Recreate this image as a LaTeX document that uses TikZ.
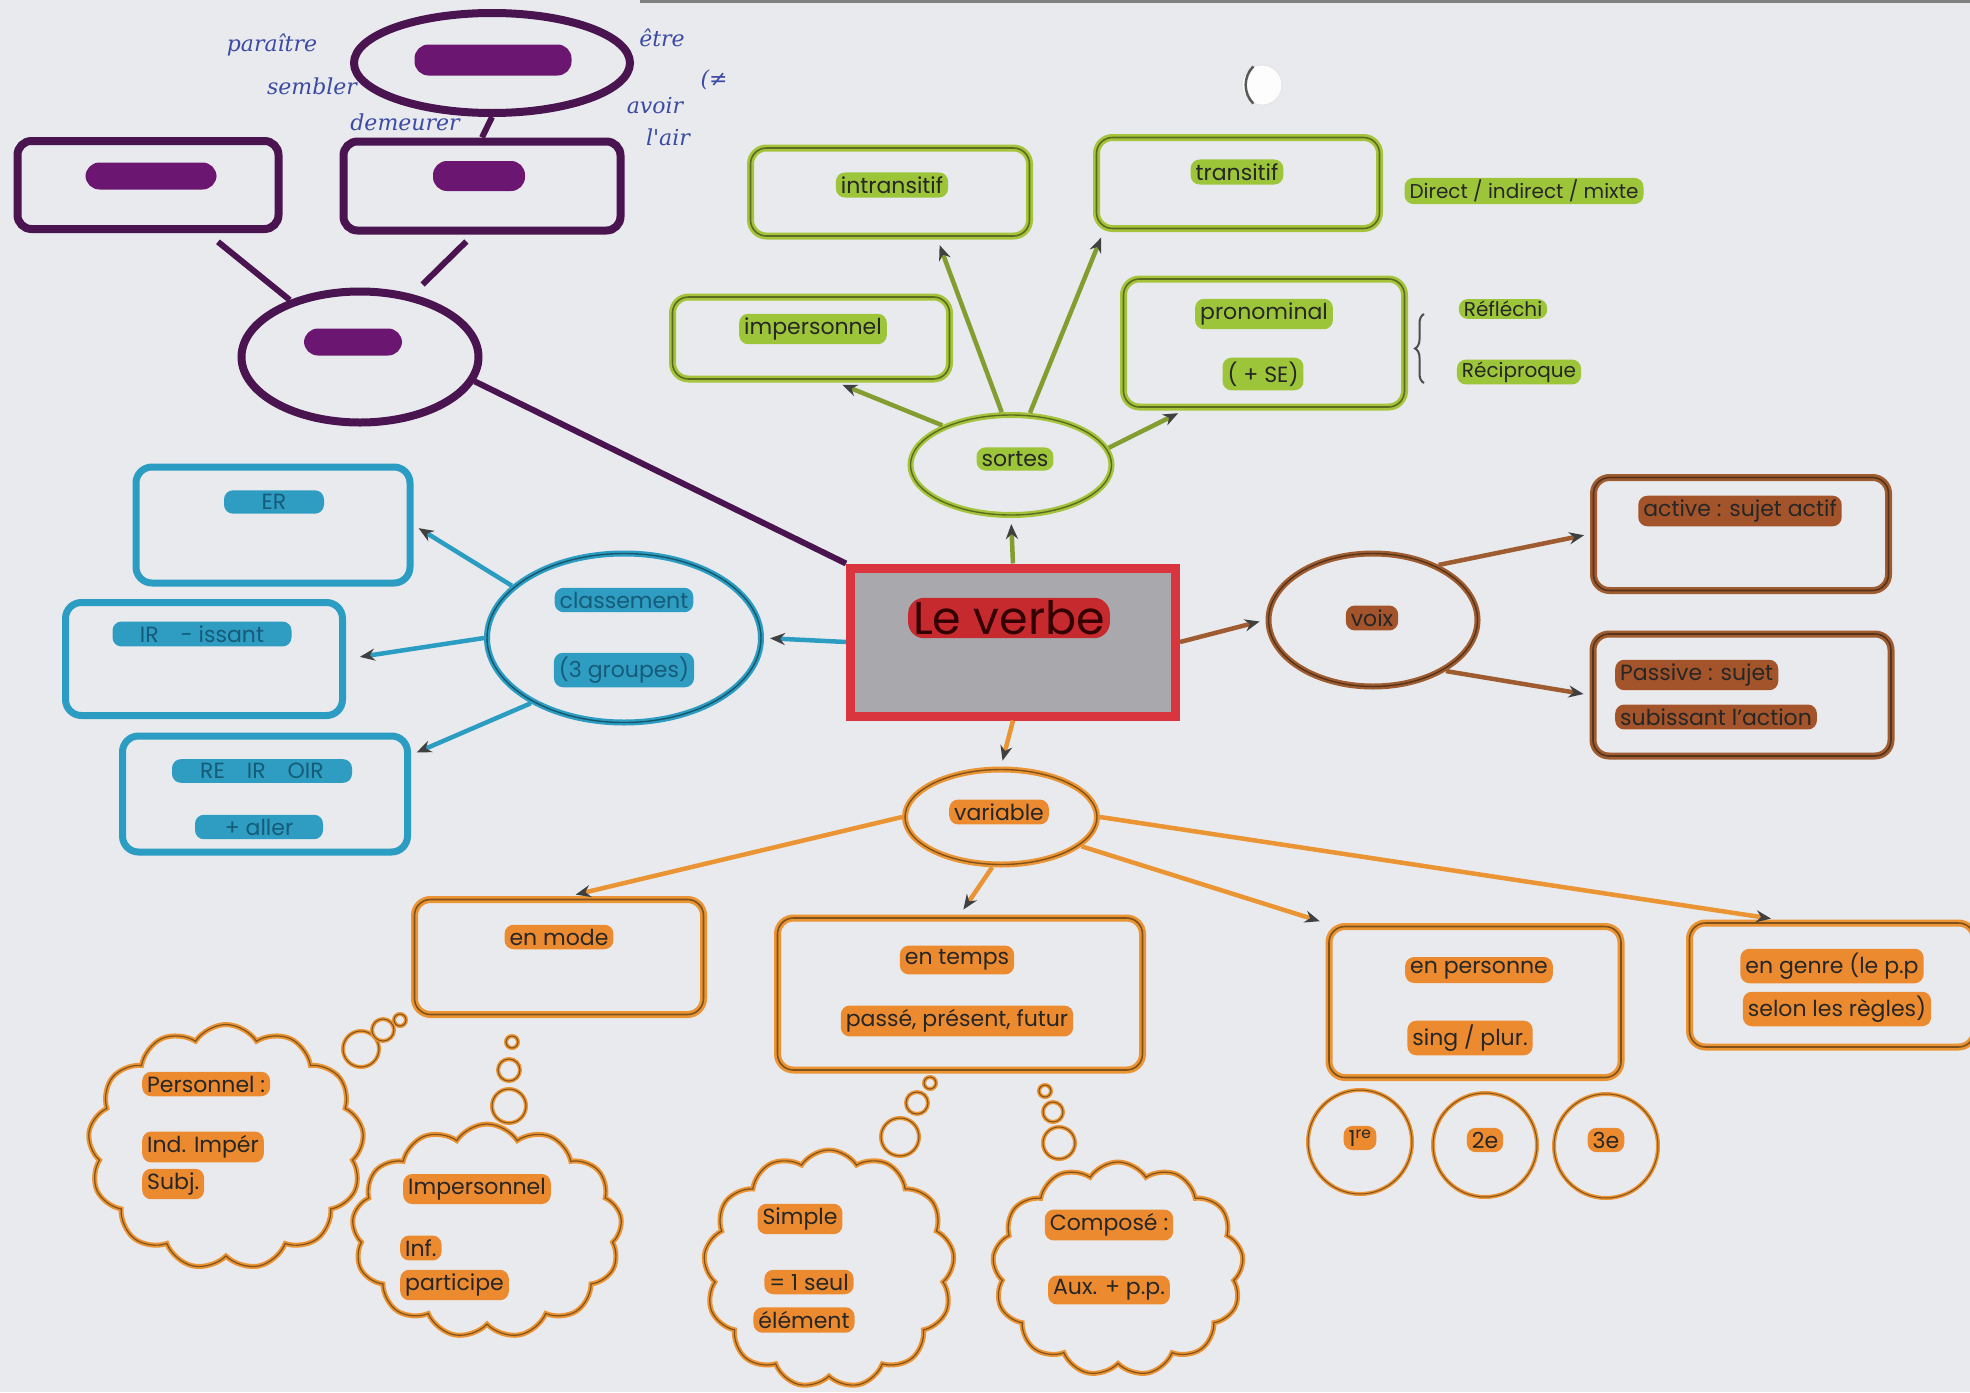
\documentclass[tikz,border=0pt]{standalone}
\usepackage{fontspec}
\setmainfont{Poppins}
\newfontfamily\handfont{DejaVu Serif}
\usetikzlibrary{shapes.geometric,shapes.symbols,arrows.meta,decorations.pathreplacing}
\definecolor{paper}{HTML}{E9EAEE}
\definecolor{pur}{HTML}{4A1450}
\definecolor{purblob}{HTML}{6B1772}
\definecolor{grn}{HTML}{A5C43C}
\definecolor{grnhl}{HTML}{9DC53A}
\definecolor{blu}{HTML}{2C9DC2}
\definecolor{bluhl}{HTML}{2F9CC2}
\definecolor{blutx}{HTML}{155C79}
\definecolor{brn}{HTML}{9E5C30}
\definecolor{brnhl}{HTML}{A3542A}
\definecolor{org}{HTML}{EA9433}
\definecolor{orghl}{HTML}{EC8A30}
\definecolor{redb}{HTML}{D9353F}
\definecolor{redhl}{HTML}{C72A2E}
\definecolor{vgrey}{HTML}{A9A9AD}
\definecolor{ink}{HTML}{3B4BA3}
\newcommand{\fsz}[1]{\fontsize{#1}{#1}\selectfont}
\tikzset{
  hl/.style={fill=#1, rounded corners=9pt, inner xsep=5pt, inner ysep=4pt, text=black!85, font=\fsz{22}},
  cbox/.style={draw=#1, line width=7pt, rounded corners=16pt, inner sep=0pt, postaction={draw=#1!55!black, line width=1.6pt}},
  cell/.style={ellipse, draw=#1, line width=6pt, inner sep=0pt, postaction={draw=#1!55!black, line width=1.4pt}},
  pbox/.style={draw=pur, line width=8pt, rounded corners=14pt, inner sep=0pt},
  pell/.style={ellipse, draw=pur, line width=8pt, inner sep=0pt},
  pblob/.style={fill=purblob, rounded corners=14pt, inner sep=0pt},
  pline/.style={draw=pur, line width=6pt},
  arr/.style={draw=#1, line width=4.5pt, shorten >=6pt, -{Stealth[length=15pt,width=12pt,color=black!75]}},
  cloudy/.style={cloud, cloud puffs=13, cloud puff arc=115, aspect=1, draw=org, line width=5pt, inner sep=0pt, postaction={draw=org!55!black, line width=1.2pt}},
  bubble/.style={circle, draw=org, line width=4pt, inner sep=0pt, postaction={draw=org!55!black, line width=1pt}},
  hand/.style={text=ink, font=\handfont\itshape\fsz{22}},
  side/.style={hl=grnhl, font=\fsz{20}, inner ysep=2pt},
}
\begin{document}
\begin{tikzpicture}[x=1pt,y=-1pt]
\fill[paper] (0,0) rectangle (1970,1392);
\useasboundingbox (0,0) rectangle (1970,1392);
\clip (0,0) rectangle (1970,1392);
\fill[black!50] (640,0) rectangle (1970,3);

% hole in the paper
\node[circle, minimum size=40pt, fill=white!90!paper, draw=black!10, line width=1pt] (hole) at (1262,85) {};
\draw[black!65, line width=2.5pt] (hole.115) to[bend right=45] (hole.245);

% ---------------- purple ----------------
\node[pell, minimum width=276pt, minimum height=100pt] (pTop) at (492,63) {};
\node[pblob, minimum width=157pt, minimum height=31pt] (pb1) at (493,60) {};
\node[pbox, minimum width=261pt, minimum height=88pt] (pL) at (148,185) {};
\node[pblob, minimum width=131pt, minimum height=27pt] (pb2) at (151,176) {};
\node[pbox, minimum width=277pt, minimum height=89pt] (pM) at (482,186) {};
\node[pblob, minimum width=92pt, minimum height=30pt] (pb3) at (479,176) {};
\node[pell, minimum width=237pt, minimum height=131pt] (pE) at (360,357) {};
\node[pblob, minimum width=98pt, minimum height=27pt] (pb4) at (353,342) {};

\node[hand] (hw1) at (272,45) {paraître};
\node[hand] (hw2) at (312,86) {sembler};
\node[hand] (hw3) at (405,122) {demeurer};
\node[hand] (hw4) at (662,38) {être};
\node[hand] (hw5) at (714,80) {(≠};
\node[hand] (hw6) at (655,106) {avoir};
\node[hand] (hw7) at (668,137) {l'air};

% ---------------- centre ----------------
\node[draw=redb, line width=9pt, fill=vgrey, minimum width=325pt, minimum height=148pt] (verbe) at (1013,642) {};
\node[hl=redhl, font=\fsz{46}, text=black!80!red, rounded corners=16pt, inner ysep=3pt] (tverbe) at (1009,618) {Le verbe};

% ---------------- green ----------------
\node[cbox=grn, minimum width=279pt, minimum height=88pt] (gIntr) at (890,192) {};
\node[hl=grnhl] (tIntr) at (892,185) {intransitif};
\node[cbox=grn, minimum width=283pt, minimum height=91pt] (gTrans) at (1238,183) {};
\node[hl=grnhl] (tTrans) at (1237,172) {transitif};
\node[side] (tDim) at (1524,191) {Direct / indirect / mixte};
\node[cbox=grn, minimum width=277pt, minimum height=82pt] (gImp) at (811,338) {};
\node[hl=grnhl] (tImp) at (813,329) {impersonnel};
\node[cbox=grn, minimum width=281pt, minimum height=128pt] (gPron) at (1264,343) {};
\node[hl=grnhl] (tPron) at (1264,314) {pronominal};
\node[hl=grnhl] (tSE) at (1263,374) {( + SE)};
\coordinate (brA) at (1424,383);
\coordinate (brB) at (1424,314);
\draw[decorate, decoration={brace, amplitude=9pt}, line width=2pt, black!70] (brA) -- (brB);
\node[side] (tRefl) at (1503,309) {Réfléchi};
\node[side] (tReci) at (1519,372) {Réciproque};
\node[cell=grn, minimum width=201pt, minimum height=100pt] (sortes) at (1011,465) {};
\node[hl=grnhl] (tSortes) at (1015,459) {sortes};

\draw[arr=grn!80!black] (verbe.north) -- (sortes.south);
\draw[arr=grn!80!black] (sortes.150) -- (gImp.-60);
\draw[arr=grn!80!black] (sortes.100) -- (gIntr.-45);
\draw[arr=grn!80!black] (sortes.70) -- (gTrans.-160);
\draw[arr=grn!80!black] (sortes.10) -- (gPron.-140);

% ---------------- blue ----------------
\node[cell=blu, minimum width=274pt, minimum height=169pt] (class) at (624,638) {};
\node[hl=bluhl, text=blutx] (tClass) at (624,600) {classement};
\node[hl=bluhl, text=blutx] (tGroupes) at (624,670) {(3 groupes)};
\node[draw=blu, line width=7pt, rounded corners=16pt, minimum width=274pt, minimum height=116pt] (bTop) at (273,525) {};
\node[hl=bluhl, text=blutx, minimum width=100pt, align=right] (tER) at (274,502) {\hfill ER};
\node[draw=blu, line width=7pt, rounded corners=16pt, minimum width=277pt, minimum height=113pt] (bMid) at (204,659) {};
\node[hl=bluhl, text=blutx, minimum width=179pt] (tIR) at (202,634) {IR\quad - issant};
\node[draw=blu, line width=7pt, rounded corners=16pt, minimum width=285pt, minimum height=116pt] (bBot) at (265,794) {};
\node[hl=bluhl, text=blutx, minimum width=180pt] (tRE) at (262,771) {RE\quad IR\quad OIR};
\node[hl=bluhl, text=blutx, minimum width=128pt] (tAller) at (259,827) {+ aller};

\draw[arr=blu] (verbe.west) -- (class.east);
\draw[arr=blu] (class.155) -- (bTop.east);
\draw[arr=blu, shorten >=14pt] (class.west) -- (bMid.east);
\draw[arr=blu] (class.-145) -- (bBot.15);

% ---------------- brown ----------------
\node[cell=brn, minimum width=209pt, minimum height=133pt] (voix) at (1373,620) {};
\node[hl=brnhl] (tVoix) at (1372,618) {voix};
\node[cbox=brn, minimum width=295pt, minimum height=113pt] (bActive) at (1741,534) {};
\node[hl=brnhl] (tActive) at (1740,511) {active : sujet actif};
\node[cbox=brn, minimum width=298pt, minimum height=122pt] (bPassive) at (1742,695) {};
\node[hl=brnhl, anchor=west] (tPassive) at (1615,675) {Passive : sujet};
\node[hl=brnhl, anchor=west] (tSubi) at (1615,717) {subissant l'action};

\draw[arr=brn] (verbe.east) -- (voix.west);
\draw[arr=brn] (voix.40) -- (bActive.west);
\draw[arr=brn] (voix.-35) -- (bPassive.west);

% ---------------- orange ----------------
\node[cell=org, minimum width=192pt, minimum height=95pt] (variable) at (1001,817) {};
\node[hl=orghl] (tVariable) at (999,812) {variable};
\node[cbox=org, minimum width=289pt, minimum height=115pt] (oMode) at (559,957) {};
\node[hl=orghl] (tMode) at (559,937) {en mode};
\node[cbox=org, minimum width=365pt, minimum height=152pt] (oTemps) at (960,994) {};
\node[hl=orghl] (tTemps) at (957,960) {en temps};
\node[hl=orghl] (tPPF) at (957,1021) {passé, présent, futur};
\node[cbox=org, minimum width=292pt, minimum height=151pt] (oPers) at (1475,1002) {};
\node[hl=orghl] (tPers) at (1479,970) {en personne};
\node[hl=orghl] (tSing) at (1470,1038) {sing / plur.};
\node[cbox=org, minimum width=285pt, minimum height=124pt] (oGenre) at (1832,985) {};
\node[hl=orghl] (tGenre) at (1832,966) {en genre (le p.p};
\node[hl=orghl] (tRegles) at (1837,1009) {selon les règles)};

\node[bubble, minimum size=104pt] (c1) at (1360,1142) {};
\node[hl=orghl] (t1) at (1360,1138) {1\textsuperscript{re}};
\node[bubble, minimum size=104pt] (c2) at (1485,1145) {};
\node[hl=orghl] (t2) at (1485,1140) {2e};
\node[bubble, minimum size=104pt] (c3) at (1606,1146) {};
\node[hl=orghl] (t3) at (1606,1140) {3e};

\draw[arr=org] (verbe.south) -- (variable.north);
\draw[arr=org] (variable.west) -- (oMode.80);
\draw[arr=org] (variable.-100) -- (oTemps.north);
\draw[arr=org] (variable.-20) -- (oPers.north west);
\draw[arr=org] (variable.east) -- (oGenre.130);

% clouds
\node[cloudy, minimum width=276pt, minimum height=245pt] (cPers) at (226,1147) {};
\node[bubble, minimum size=36pt] (bp1) at (361,1049) {};
\node[bubble, minimum size=22pt] (bp2) at (383,1030) {};
\node[bubble, minimum size=12pt] (bp3) at (400,1020) {};
\node[hl=orghl, anchor=west] (tPersonnel) at (142,1084) {Personnel :};
\node[hl=orghl, anchor=west] (tInd) at (142,1147) {Ind. Impér};
\node[hl=orghl, anchor=west] (tSubj) at (142,1184) {Subj.};

\node[cloudy, minimum width=270pt, minimum height=214pt] (cImp) at (487,1231) {};
\node[bubble, minimum size=34pt] (bi1) at (509,1106) {};
\node[bubble, minimum size=22pt] (bi2) at (509,1070) {};
\node[bubble, minimum size=12pt] (bi3) at (512,1042) {};
\node[hl=orghl] (tImpers) at (477,1189) {Impersonnel};
\node[hl=orghl, anchor=west] (tInf) at (400,1248) {Inf.};
\node[hl=orghl, anchor=west] (tPart) at (400,1285) {participe};

\node[cloudy, minimum width=251pt, minimum height=238pt] (cSimp) at (829,1269) {};
\node[bubble, minimum size=38pt] (bs1) at (900,1137) {};
\node[bubble, minimum size=22pt] (bs2) at (917,1103) {};
\node[bubble, minimum size=12pt] (bs3) at (930,1083) {};
\node[hl=orghl] (tSimple) at (800,1219) {Simple};
\node[hl=orghl] (tSeul) at (809,1282) {= 1 seul};
\node[hl=orghl] (tElem) at (804,1320) {élément};

\node[cloudy, minimum width=251pt, minimum height=214pt] (cComp) at (1118,1269) {};
\node[bubble, minimum size=32pt] (bc1) at (1059,1143) {};
\node[bubble, minimum size=20pt] (bc2) at (1053,1112) {};
\node[bubble, minimum size=12pt] (bc3) at (1045,1091) {};
\node[hl=orghl] (tCompose) at (1109,1225) {Composé :};
\node[hl=orghl] (tAux) at (1109,1290) {Aux. + p.p.};

% purple connectors
\draw[pline] (pTop.south) -- (pM.north);
\draw[pline, shorten <=14pt] (pL) -- (pE);
\draw[pline, shorten <=10pt, shorten >=14pt] (pM.-100) -- (pE.50);
\draw[pline] (pE.-12) -- (verbe.north west);
\end{tikzpicture}
\end{document}
